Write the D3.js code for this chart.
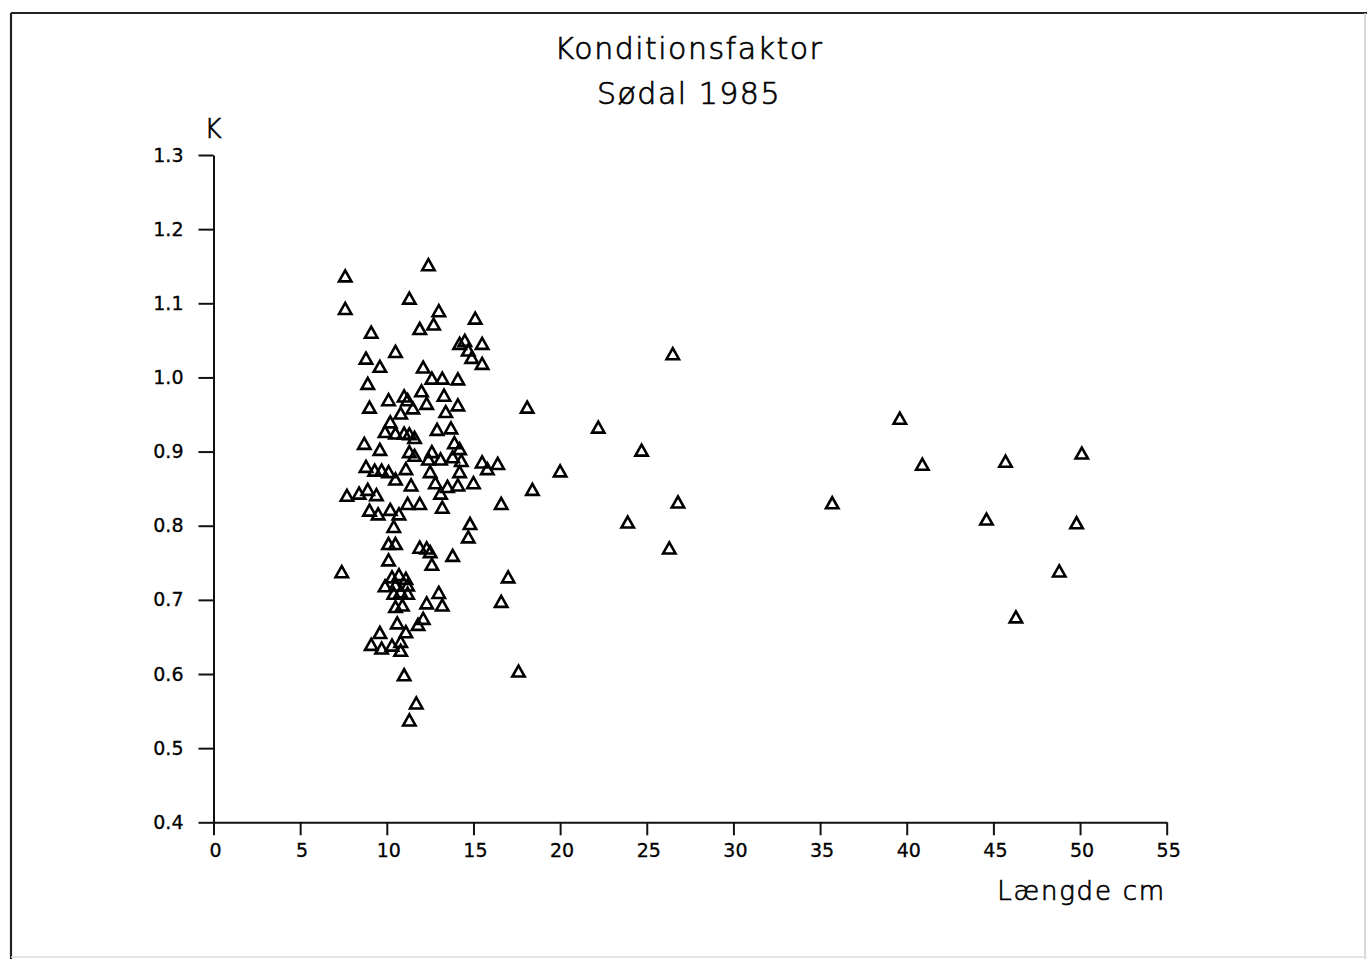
<!DOCTYPE html>
<html>
<head>
<meta charset="utf-8">
<script src="https://cdn.jsdelivr.net/npm/d3@7"></script>
<style>
  html, body { margin: 0; padding: 0; background: #fff; }
  svg { display: block; }
  .axis path, .axis line { stroke: #111; stroke-width: 2; }
  .axis text { font-family: "DejaVu Sans", sans-serif; font-size: 19px; fill: #000; stroke: #000; stroke-width: 0.3px; }
  .title { font-family: "DejaVu Sans", sans-serif; font-weight: 300; font-size: 30px; fill: #000; stroke: #000; stroke-width: 0.7px; letter-spacing: 1.5px; }
  .label { font-family: "DejaVu Sans", sans-serif; font-weight: 300; font-size: 26px; fill: #000; stroke: #000; stroke-width: 0.7px; letter-spacing: 1.8px; }
</style>
</head>
<body>
<div id="chart"></div>
<script>
// fish length (cm) and condition factor K
const lengthCm = [
  12.4, 7.6, 7.6, 11.3, 13.0, 15.1, 12.7, 11.9, 9.1, 10.5,
  14.2, 14.5, 15.5, 14.7, 14.9, 15.5, 8.8, 9.6, 12.1, 12.6,
  13.2, 14.1, 8.9, 12.0, 13.3, 10.1, 11.0, 11.2, 12.3, 11.5,
  14.1, 9.0, 13.4, 18.1, 10.8, 10.2, 12.9, 13.7, 9.9, 10.5,
  11.0, 11.3, 11.6, 8.7, 9.6, 13.9, 14.2, 11.3, 11.6, 12.6,
  12.4, 13.1, 13.8, 14.3, 15.5, 15.8, 16.4, 8.8, 9.3, 9.7,
  10.1, 11.1, 12.5, 14.2, 10.5, 12.8, 14.1, 13.5, 13.1, 15.0,
  11.4, 7.7, 8.4, 8.9, 9.4, 18.4, 9.0, 9.5, 10.2, 10.7,
  11.2, 11.9, 13.2, 16.6, 10.4, 14.8, 14.7, 10.1, 10.5, 11.9,
  12.3, 12.5, 12.6, 13.8, 10.1, 7.4, 17.0, 10.3, 10.7, 11.1,
  9.9, 10.5, 11.2, 10.4, 10.8, 11.2, 10.5, 10.9, 13.0, 13.2,
  12.3, 16.6, 12.1, 11.8, 10.6, 9.6, 11.1, 9.1, 9.7, 10.3,
  10.8, 10.8, 11.0, 17.6, 11.7, 11.3, 20.0, 22.2, 23.9, 24.7,
  26.5, 26.3, 26.8, 35.7, 39.6, 40.9, 44.6, 45.7, 46.3, 48.8,
  49.8, 50.1
];
const kFactor = [
  1.152, 1.137, 1.093, 1.107, 1.090, 1.080, 1.072, 1.066, 1.061, 1.035,
  1.046, 1.050, 1.046, 1.037, 1.027, 1.019, 1.026, 1.015, 1.014, 0.999,
  0.999, 0.998, 0.992, 0.982, 0.976, 0.970, 0.975, 0.970, 0.965, 0.959,
  0.963, 0.960, 0.954, 0.960, 0.952, 0.940, 0.930, 0.932, 0.927, 0.925,
  0.925, 0.924, 0.919, 0.911, 0.903, 0.912, 0.904, 0.900, 0.895, 0.900,
  0.890, 0.890, 0.893, 0.888, 0.886, 0.877, 0.884, 0.880, 0.875, 0.875,
  0.873, 0.877, 0.873, 0.873, 0.863, 0.858, 0.855, 0.853, 0.844, 0.858,
  0.855, 0.841, 0.844, 0.849, 0.842, 0.849, 0.821, 0.816, 0.822, 0.816,
  0.830, 0.830, 0.825, 0.830, 0.799, 0.803, 0.785, 0.776, 0.776, 0.771,
  0.770, 0.765, 0.748, 0.760, 0.754, 0.738, 0.731, 0.731, 0.734, 0.729,
  0.719, 0.720, 0.720, 0.709, 0.711, 0.709, 0.691, 0.693, 0.710, 0.693,
  0.696, 0.698, 0.675, 0.667, 0.669, 0.656, 0.657, 0.640, 0.635, 0.639,
  0.644, 0.632, 0.599, 0.604, 0.561, 0.538, 0.874, 0.933, 0.805, 0.902,
  1.032, 0.770, 0.832, 0.831, 0.945, 0.883, 0.809, 0.887, 0.677, 0.739,
  0.804, 0.898
];
const xTicks = [0, 5, 10, 15, 20, 25, 30, 35, 40, 45, 50, 55];
const yTicks = [0.4, 0.5, 0.6, 0.7, 0.8, 0.9, 1.0, 1.1, 1.2, 1.3];
const titleLines = ['Konditionsfaktor', 'Sødal 1985'];

const width = 1367, height = 959;

const svg = d3.select('#chart').append('svg')
  .attr('width', width)
  .attr('height', height);

// page frame (scanned sheet edges)
svg.append('line').attr('x1', 11).attr('y1', 13).attr('x2', width).attr('y2', 13)
  .attr('stroke', '#222').attr('stroke-width', 2.2);
svg.append('line').attr('x1', 11).attr('y1', 13).attr('x2', 11).attr('y2', height)
  .attr('stroke', '#222').attr('stroke-width', 2.2);
svg.append('line').attr('x1', width - 2).attr('y1', 13).attr('x2', width - 2).attr('y2', height)
  .attr('stroke', '#ccc').attr('stroke-width', 1.5);
svg.append('line').attr('x1', 11).attr('y1', height - 2).attr('x2', width).attr('y2', height - 2)
  .attr('stroke', '#ddd').attr('stroke-width', 1.5);

const x = d3.scaleLinear().domain([0, 55]).range([213.5, 1166.7]);
const y = d3.scaleLinear().domain([0.4, 1.3]).range([822.3, 155]);

/* x axis */
const xAxis = svg.append('g')
  .attr('class', 'axis')
  .attr('transform', `translate(0,${y(0.4)})`)
  .call(d3.axisBottom(x).tickValues(xTicks).tickFormat(d3.format('d'))
    .tickSize(13).tickSizeOuter(0).tickPadding(8));
xAxis.selectAll('text').attr('dx', 1.5);

/* y axis */
svg.append('g')
  .attr('class', 'axis')
  .attr('transform', `translate(${x(0)},0)`)
  .call(d3.axisLeft(y).tickValues(yTicks).tickFormat(d3.format('.1f'))
    .tickSize(15).tickSizeOuter(0).tickPadding(15));

/* titles */
svg.append('g').selectAll('text')
  .data(titleLines)
  .join('text')
  .attr('class', 'title')
  .attr('x', 689)
  .attr('y', (d, i) => 59 + i * 45)
  .attr('text-anchor', 'middle')
  .text(d => d);

svg.append('text')
  .attr('class', 'label')
  .attr('x', 214)
  .attr('y', 138)
  .attr('text-anchor', 'middle')
  .text('K');

svg.append('text')
  .attr('class', 'label')
  .attr('x', 1166)
  .attr('y', 900)
  .attr('text-anchor', 'end')
  .text('Længde cm');

/* triangle markers */
const tri = 'M0,-5.5L6.2,5.5L-6.2,5.5Z';
svg.append('g')
  .selectAll('path')
  .data(d3.range(lengthCm.length))
  .join('path')
  .attr('d', tri)
  .attr('transform', i => `translate(${x(lengthCm[i])},${y(kFactor[i])})`)
  .attr('fill', 'none')
  .attr('stroke', '#000')
  .attr('stroke-width', 2.6)
  .attr('stroke-linejoin', 'miter');
</script>
</body>
</html>
